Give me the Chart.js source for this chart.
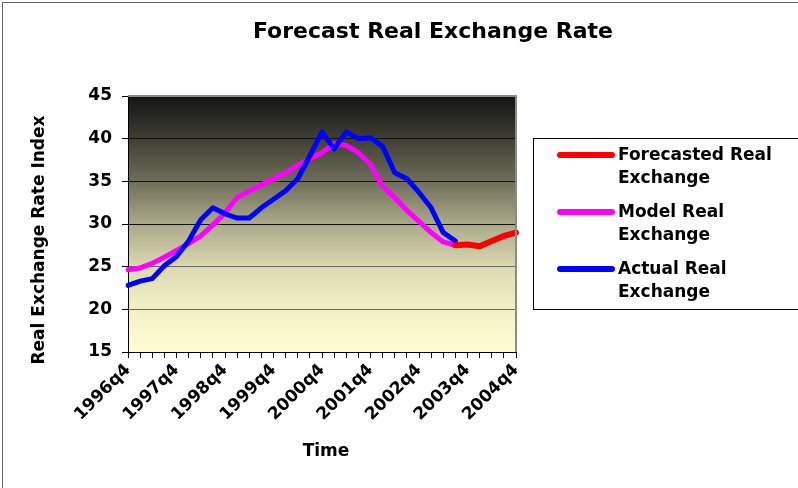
<!DOCTYPE html>
<html>
<head>
<meta charset="utf-8">
<script src="https://cdn.jsdelivr.net/npm/chart.js@4.4.1/dist/chart.umd.min.js"></script>
<style>
  body { margin: 0; background: #fff; }
  #wrap { position: relative; width: 798px; height: 488px; }
  #frame { position: absolute; left: 2px; top: 2px; width: 900px; height: 600px;
           border-left: 1px solid #666; border-top: 1px solid #666; pointer-events: none; }
</style>
</head>
<body>
<div id="wrap">
  <canvas id="chart" width="798" height="488"></canvas>
  <div id="frame"></div>
</div>
<script>
const quarters = [
  '1996q4', '1997q1', '1997q2', '1997q3', '1997q4', '1998q1', '1998q2', '1998q3', '1998q4',
  '1999q1', '1999q2', '1999q3', '1999q4', '2000q1', '2000q2', '2000q3', '2000q4',
  '2001q1', '2001q2', '2001q3', '2001q4', '2002q1', '2002q2', '2002q3', '2002q4',
  '2003q1', '2003q2', '2003q3', '2003q4', '2004q1', '2004q2', '2004q3', '2004q4'
];

const actualReal = [22.8, 23.3, 23.6, 25.1, 26.2, 28.0, 30.5, 31.9, 31.2, 30.7, 30.7, 31.9,
  32.9, 33.9, 35.3, 38.0, 40.8, 38.8, 40.8, 40.0, 40.1, 39.1, 36.0, 35.3, 33.7, 31.9, 29.0, 28.0];

const modelReal = [24.65, 24.85, 25.4, 26.1, 26.9, 27.7, 28.6, 29.9, 31.3, 33.1, 33.85, 34.6,
  35.3, 36.0, 36.9, 37.65, 38.35, 39.45, 39.2, 38.35, 37.0, 34.4, 33.1, 31.6, 30.3, 29.0, 27.9, 27.5];

const forecastReal = [null, null, null, null, null, null, null, null, null, null, null, null,
  null, null, null, null, null, null, null, null, null, null, null, null, null, null, null,
  27.5, 27.6, 27.4, 28.0, 28.6, 29.0];

const yTicks = [15, 20, 25, 30, 35, 40, 45];

const FONT = "'DejaVu Sans', sans-serif";

// background gradient + grey top/right frame of plot area
const plotBg = {
  id: 'plotBg',
  beforeDraw(chart) {
    const { ctx, chartArea: a } = chart;
    const g = ctx.createLinearGradient(0, a.top, 0, a.bottom);
    g.addColorStop(0, '#141412');
    g.addColorStop(0.17, '#404034');
    g.addColorStop(0.33, '#6e6d58');
    g.addColorStop(0.5, '#aaa98a');
    g.addColorStop(0.67, '#dcdab0');
    g.addColorStop(0.83, '#f2f0c6');
    g.addColorStop(1, '#fffdd0');
    ctx.save();
    ctx.fillStyle = g;
    ctx.fillRect(a.left, a.top, a.right - a.left, a.bottom - a.top);
    ctx.restore();
  },
  afterDraw(chart) {
    const { ctx, chartArea: a } = chart;
    ctx.save();
    ctx.strokeStyle = '#8a8a8a';
    ctx.lineWidth = 2;
    ctx.beginPath();
    ctx.moveTo(a.left, a.top);
    ctx.lineTo(a.right, a.top);
    ctx.lineTo(a.right, a.bottom);
    ctx.stroke();
    ctx.restore();
  }
};

// title, axis titles and the boxed legend
const texts = {
  id: 'texts',
  afterDraw(chart) {
    const ctx = chart.ctx;
    ctx.save();
    ctx.fillStyle = '#000';
    ctx.textAlign = 'center';
    ctx.textBaseline = 'middle';
    ctx.font = 'bold 22px ' + FONT;
    ctx.fillText('Forecast Real Exchange Rate', 433, 32);
    ctx.font = 'bold 17px ' + FONT;
    ctx.fillText('Time', 326, 452);
    ctx.save();
    ctx.translate(40, 240);
    ctx.rotate(-Math.PI / 2);
    ctx.fillText('Real Exchange Rate Index', 0, 0);
    ctx.restore();

    // legend
    ctx.strokeStyle = '#000';
    ctx.lineWidth = 1;
    ctx.strokeRect(533.5, 138.5, 300, 171);
    const items = [chart.data.datasets[0], chart.data.datasets[2], chart.data.datasets[1]];
    ctx.textAlign = 'left';
    ctx.font = 'bold 17px ' + FONT;
    items.forEach(function(ds, i) {
      const y = 155 + i * 57;
      ctx.strokeStyle = ds.borderColor;
      ctx.lineWidth = 6;
      ctx.lineCap = 'round';
      ctx.beginPath();
      ctx.moveTo(560, y);
      ctx.lineTo(612, y);
      ctx.stroke();
      ds.label.split('\n').forEach(function(line, j) {
        ctx.fillText(line, 618, y + 1 + j * 23);
      });
    });
    ctx.restore();
  }
};

new Chart(document.getElementById('chart').getContext('2d'), {
  type: 'line',
  data: {
    labels: quarters,
    datasets: [
      { label: 'Forecasted Real\nExchange', data: forecastReal, borderColor: '#ff0000',
        borderWidth: 6, order: 0 },
      { label: 'Actual Real\nExchange', data: actualReal, borderColor: '#0000ff',
        borderWidth: 5, order: 1 },
      { label: 'Model Real\nExchange', data: modelReal, borderColor: '#ff00ff',
        borderWidth: 5, order: 2 }
    ].map(function(d) {
      return Object.assign(d, { pointRadius: 0, tension: 0, fill: false,
        borderJoinStyle: 'round', borderCapStyle: 'round', spanGaps: false });
    })
  },
  options: {
    responsive: false,
    animation: false,
    layout: { padding: { left: 0, right: 282, top: 96, bottom: 0 } },
    plugins: { legend: { display: false }, title: { display: false }, tooltip: { enabled: false } },
    scales: {
      x: {
        offset: false,
        grid: { drawOnChartArea: false, drawTicks: true, tickLength: 6, color: '#000', offset: false },
        border: { color: '#000', width: 1 },
        ticks: {
          autoSkip: false, minRotation: 45, maxRotation: 45, padding: 2,
          color: '#000', font: { family: FONT, size: 17, weight: 'bold' },
          callback: function(v, i) {
            const q = quarters[i];
            return q.endsWith('q4') ? q : '';
          }
        },
        afterFit: function(s) { s.height = 136; }
      },
      y: {
        min: 15, max: 45,
        afterBuildTicks: function(s) { s.ticks = yTicks.map(function(v) { return { value: v }; }); },
        grid: {
          color: function(c) { return c.tick && c.tick.value >= 30 ? '#111' : '#6a6a6a'; },
          tickColor: '#000', tickLength: 6
        },
        border: { color: '#000', width: 1 },
        ticks: { color: '#000', padding: 10, font: { family: FONT, size: 17, weight: 'bold' } },
        afterFit: function(s) { s.width = 128; }
      }
    }
  },
  plugins: [plotBg, texts]
});
</script>
</body>
</html>
